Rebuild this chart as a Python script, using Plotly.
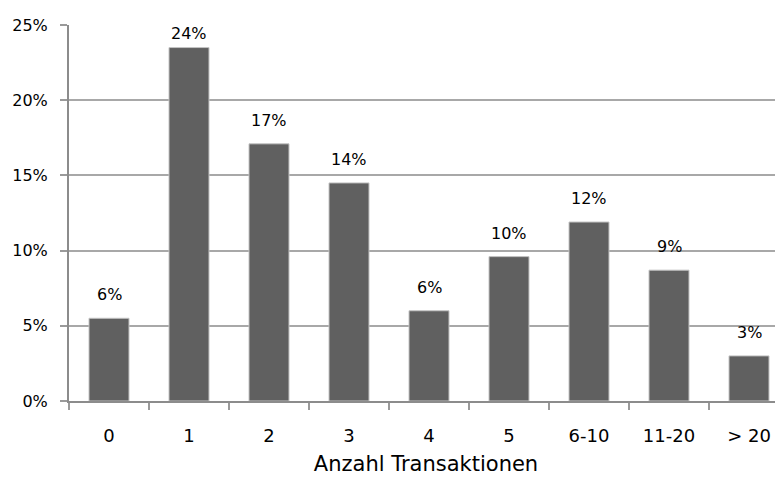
import plotly.graph_objects as go

categories = ["0", "1", "2", "3", "4", "5", "6-10", "11-20", "> 20"]
shares = [5.5, 23.5, 17.1, 14.5, 6.0, 9.6, 11.9, 8.7, 3.0]
value_labels = ["6%", "24%", "17%", "14%", "6%", "10%", "12%", "9%", "3%"]
y_ticks = [0, 5, 10, 15, 20, 25]
y_tick_labels = ["0%", "5%", "10%", "15%", "20%", "25%"]
x_title = "Anzahl Transaktionen"

FONT = "DejaVu Sans"
TXT = "#000000"

# page body has an 8px margin; compensate so the plot lands where the reference has it
W, H = 775, 469
ML, MR, MT, MB = 61, 0, 17, 76
Y_MAX = 25
px_per_unit = (H - MT - MB) / Y_MAX

fig = go.Figure(
    go.Bar(
        x=categories,
        y=shares,
        width=0.5,
        marker=dict(color="#606060", line=dict(color="#c4c4c4", width=1)),
        hoverinfo="x+y",
    )
)

for cat, val, lab in zip(categories, shares, value_labels):
    room = (Y_MAX - val) * px_per_unit - 20
    fig.add_annotation(
        x=cat, y=val, text=lab, showarrow=False,
        xanchor="center", yanchor="bottom",
        yshift=max(2, min(12, room)),
        font=dict(family=FONT, size=16, color=TXT),
    )

fig.update_layout(
    width=W,
    height=H,
    margin=dict(l=ML, r=MR, t=MT, b=MB),
    paper_bgcolor="white",
    plot_bgcolor="white",
    showlegend=False,
    font=dict(family=FONT, color=TXT),
    xaxis=dict(
        type="category",
        range=[-0.5, 8.425],
        tickson="boundaries",
        ticks="outside",
        ticklen=7,
        tickwidth=2,
        tickcolor="#9a9a9a",
        showline=True,
        linecolor="#8c8c8c",
        linewidth=2,
        showgrid=False,
        ticklabelstandoff=17,
        tickfont=dict(family=FONT, size=18, color=TXT),
        title=dict(text=x_title, font=dict(family=FONT, size=21, color=TXT), standoff=12),
    ),
    yaxis=dict(
        range=[0, Y_MAX],
        tickvals=y_ticks,
        ticktext=y_tick_labels,
        ticks="outside",
        ticklen=7,
        tickwidth=2,
        tickcolor="#9a9a9a",
        showline=True,
        linecolor="#8c8c8c",
        linewidth=2,
        showgrid=True,
        gridcolor="#a8a8a8",
        gridwidth=1.5,
        zeroline=False,
        ticklabelstandoff=9,
        tickfont=dict(family=FONT, size=16, color=TXT),
    ),
    bargap=0.5,
)

fig.write_html("out.html")
